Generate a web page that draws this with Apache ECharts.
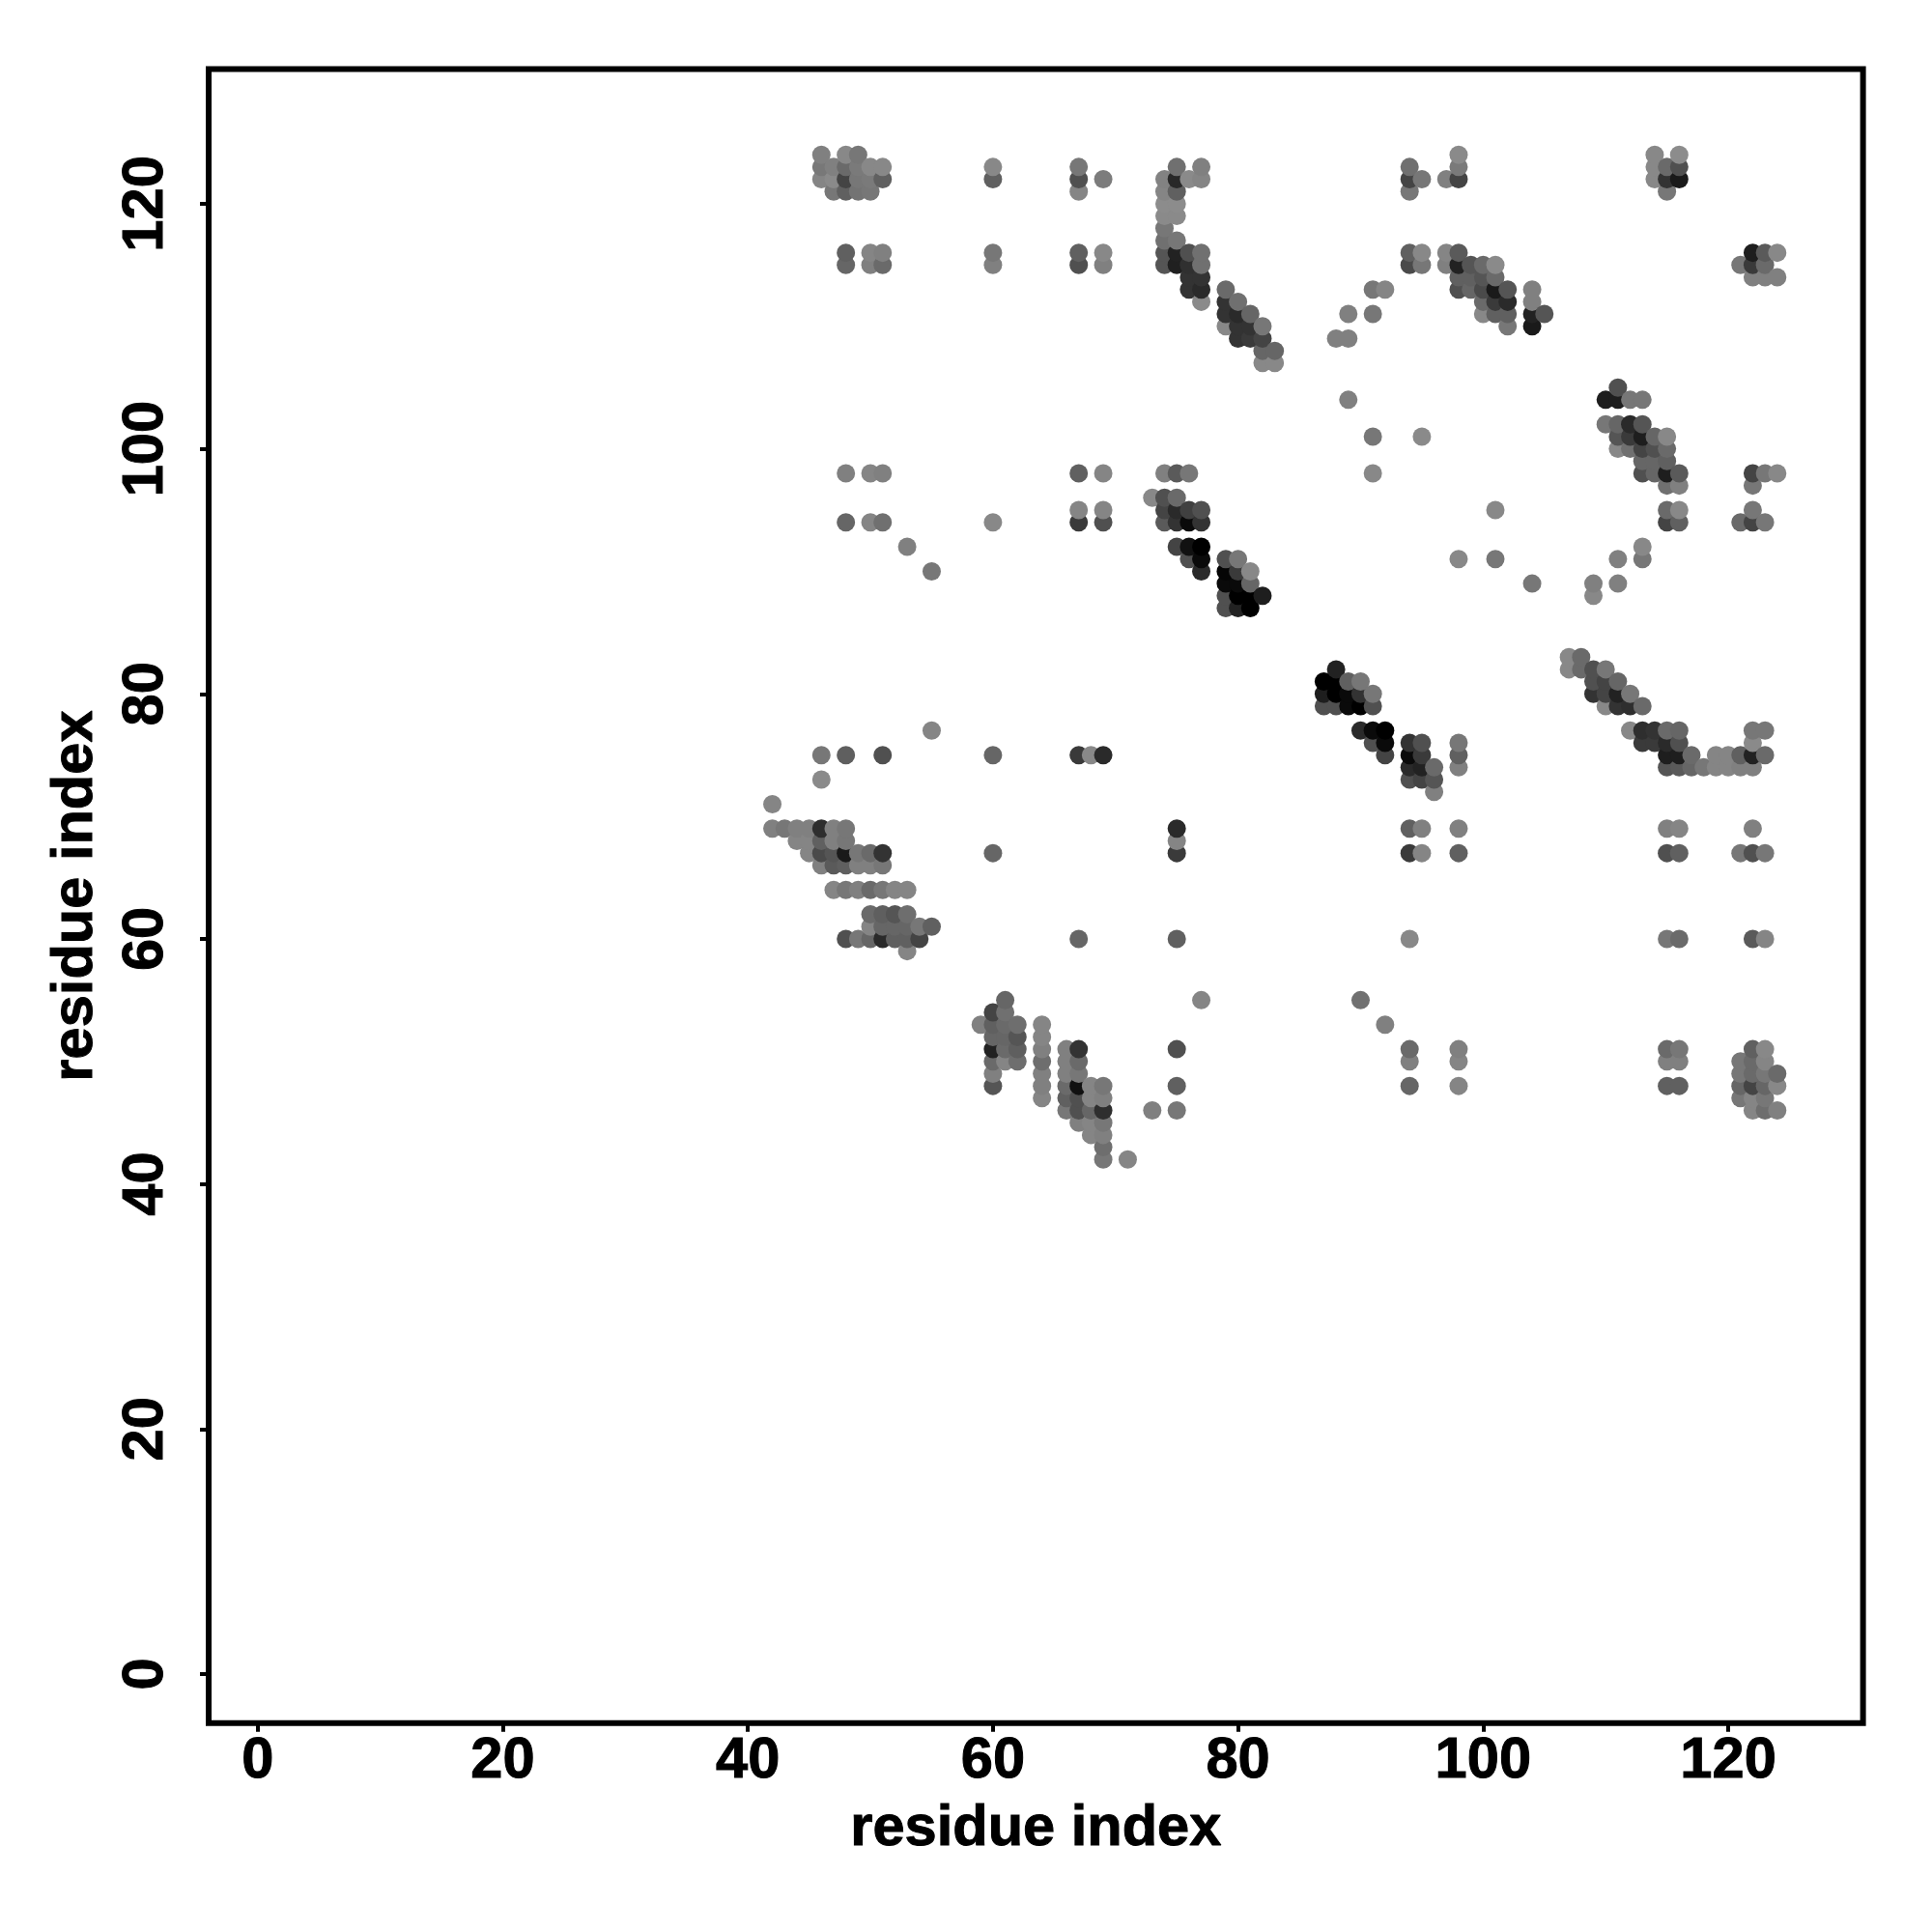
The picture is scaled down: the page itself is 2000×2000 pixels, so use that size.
<!DOCTYPE html>
<html><head><meta charset="utf-8"><style>html,body{margin:0;background:#fff}#c{width:2000px;height:2000px}</style>
<script src="https://cdn.jsdelivr.net/npm/echarts@6/dist/echarts.min.js"></script></head><body><div id="c"></div>
<script>
// Ticks
const xTicks = [0,20,40,60,80,100,120];
const yTicks = [0,20,40,60,80,100,120];
const axisTitle = 'residue index';
// Each row: residue y -> [residue x, grey level]
const y124=[[46,0x80],[48,0x88],[49,0x77],[98,0x8a],[114,0x88],[116,0x8c]];
const y123=[[46,0x78],[47,0x80],[48,0x6a],[49,0x7a],[50,0x88],[51,0x88],[60,0x88],[67,0x77],[75,0x70],[77,0x80],[94,0x70],[98,0x7a],[114,0x88],[115,0x6a],[116,0x50]];
const y122=[[46,0x85],[47,0x8a],[48,0x44],[49,0x77],[50,0x7a],[51,0x60],[60,0x60],[67,0x50],[69,0x7c],[74,0x82],[75,0x28],[76,0x8a],[77,0x85],[94,0x44],[95,0x77],[97,0x80],[98,0x44],[114,0x88],[115,0x33],[116,0x1a]];
const y121=[[47,0x77],[48,0x60],[49,0x73],[50,0x77],[67,0x85],[74,0x85],[75,0x60],[94,0x77],[115,0x77]];
const y120=[[74,0x8c],[75,0x8c]];
const y119=[[74,0x8a],[75,0x8a]];
const y118=[[74,0x77]];
const y117=[[74,0x70],[75,0x77]];
const y116=[[48,0x60],[50,0x85],[51,0x80],[60,0x77],[67,0x60],[69,0x88],[74,0x55],[75,0x22],[76,0x50],[77,0x70],[94,0x60],[95,0x88],[97,0x85],[98,0x5a],[122,0x1e],[123,0x5a],[124,0x88]];
const y115=[[48,0x66],[50,0x80],[51,0x6a],[60,0x80],[67,0x50],[69,0x80],[74,0x55],[75,0x20],[76,0x30],[77,0x70],[94,0x4a],[95,0x77],[97,0x80],[98,0x22],[99,0x55],[100,0x6a],[101,0x8a],[121,0x77],[122,0x3a],[123,0x6a]];
const y114=[[76,0x33],[77,0x33],[98,0x60],[99,0x60],[100,0x55],[101,0x6a],[122,0x80],[123,0x80],[124,0x80]];
const y113=[[76,0x33],[77,0x2a],[79,0x6a],[91,0x77],[92,0x85],[98,0x50],[99,0x66],[100,0x4a],[101,0x1a],[102,0x55],[104,0x80]];
const y112=[[77,0x8a],[79,0x33],[80,0x70],[100,0x6a],[101,0x3a],[102,0x2a],[104,0x80]];
const y111=[[79,0x33],[80,0x2a],[81,0x66],[89,0x80],[91,0x77],[100,0x88],[101,0x60],[102,0x60],[104,0x22],[105,0x55]];
const y110=[[79,0x88],[80,0x33],[81,0x33],[82,0x77],[102,0x77],[104,0x1a]];
const y109=[[80,0x33],[81,0x3a],[82,0x44],[88,0x80],[89,0x80]];
const y108=[[82,0x66],[83,0x66]];
const y107=[[82,0x88],[83,0x88]];
const y105=[[111,0x50]];
const y104=[[89,0x80],[110,0x1e],[111,0x1e],[112,0x77],[113,0x77]];
const y102=[[110,0x77],[111,0x66],[112,0x2a],[113,0x55]];
const y101=[[91,0x77],[95,0x8a],[111,0x55],[112,0x3a],[113,0x1e],[114,0x66],[115,0x88]];
const y100=[[111,0x88],[112,0x70],[113,0x44],[114,0x50],[115,0x6a]];
const y99=[[113,0x66],[114,0x66],[115,0x60]];
const y98=[[48,0x80],[50,0x85],[51,0x80],[67,0x60],[69,0x85],[74,0x80],[75,0x5a],[76,0x77],[91,0x88],[113,0x50],[114,0x66],[115,0x1e],[116,0x5a],[122,0x44],[123,0x77],[124,0x88]];
const y97=[[115,0x70],[116,0x80],[122,0x77]];
const y96=[[73,0x88],[74,0x50],[75,0x6a]];
const y95=[[67,0x85],[69,0x85],[74,0x44],[75,0x2a],[76,0x40],[77,0x50],[101,0x88],[115,0x6a],[116,0x88],[122,0x77]];
const y94=[[48,0x66],[50,0x85],[51,0x70],[60,0x88],[67,0x3a],[69,0x50],[74,0x5a],[75,0x33],[76,0x0a],[77,0x33],[115,0x44],[116,0x60],[121,0x6a],[122,0x44],[123,0x77]];
const y92=[[53,0x80],[75,0x44],[76,0x11],[77,0x00],[113,0x88]];
const y91=[[76,0x50],[77,0x0a],[79,0x50],[80,0x77],[98,0x88],[101,0x77],[111,0x80],[113,0x77]];
const y90=[[55,0x77],[77,0x2a],[79,0x05],[80,0x3a],[81,0x88]];
const y89=[[79,0x0a],[80,0x0a],[81,0x66],[104,0x77],[109,0x80],[111,0x80]];
const y88=[[79,0x50],[80,0x00],[81,0x00],[82,0x1e],[109,0x88]];
const y87=[[79,0x50],[80,0x22],[81,0x00]];
const y83=[[107,0x88],[108,0x6a]];
const y82=[[88,0x22],[107,0x88],[108,0x6a],[109,0x50],[110,0x77]];
const y81=[[87,0x00],[88,0x00],[89,0x60],[90,0x77],[109,0x50],[110,0x44],[111,0x66]];
const y80=[[87,0x1e],[88,0x00],[89,0x0a],[90,0x33],[91,0x77],[109,0x33],[110,0x44],[111,0x22],[112,0x77]];
const y79=[[87,0x50],[88,0x50],[89,0x0a],[90,0x00],[91,0x50],[110,0x88],[111,0x33],[112,0x2e],[113,0x6a]];
const y77=[[55,0x85],[90,0x2a],[91,0x0a],[92,0x00],[112,0x88],[113,0x2e],[114,0x33],[115,0x6a],[116,0x66],[122,0x77],[123,0x77]];
const y76=[[91,0x50],[92,0x0a],[94,0x33],[95,0x50],[98,0x77],[113,0x3a],[114,0x3a],[115,0x2a],[116,0x50],[122,0x8a]];
const y75=[[46,0x77],[48,0x5f],[51,0x50],[60,0x66],[67,0x3a],[68,0x88],[69,0x2a],[92,0x44],[94,0x0a],[95,0x3a],[98,0x60],[115,0x1e],[116,0x1e],[117,0x6a],[119,0x85],[120,0x85],[121,0x60],[122,0x22],[123,0x6a]];
const y74=[[94,0x2a],[95,0x22],[96,0x6a],[98,0x80],[115,0x55],[116,0x5a],[117,0x66],[118,0x77],[119,0x85],[120,0x85],[121,0x80],[122,0x80]];
const y73=[[46,0x8a],[94,0x50],[95,0x44],[96,0x55]];
const y72=[[96,0x80]];
const y71=[[42,0x85]];
const y69=[[42,0x80],[43,0x77],[44,0x80],[45,0x80],[46,0x2e],[47,0x80],[48,0x77],[75,0x2a],[94,0x60],[95,0x80],[98,0x80],[115,0x80],[116,0x85],[122,0x80]];
const y68=[[44,0x85],[45,0x85],[46,0x60],[47,0x80],[48,0x77],[75,0x85]];
const y67=[[45,0x85],[46,0x4a],[47,0x55],[48,0x1a],[49,0x77],[50,0x6a],[51,0x33],[60,0x66],[75,0x3a],[94,0x3a],[95,0x85],[98,0x60],[115,0x50],[116,0x60],[121,0x77],[122,0x50],[123,0x77]];
const y66=[[46,0x80],[47,0x5a],[48,0x5f],[49,0x80],[50,0x80],[51,0x77]];
const y64=[[47,0x85],[48,0x77],[49,0x80],[50,0x6a],[51,0x77],[52,0x85],[53,0x85]];
const y62=[[50,0x6a],[51,0x5f],[52,0x55],[53,0x6e]];
const y61=[[50,0x85],[51,0x66],[52,0x66],[53,0x66],[54,0x77],[55,0x60]];
const y60=[[48,0x50],[49,0x77],[50,0x66],[51,0x2a],[52,0x60],[53,0x60],[54,0x44],[67,0x66],[75,0x60],[94,0x88],[115,0x77],[116,0x6a],[122,0x5a],[123,0x85]];
const y59=[[53,0x85]];
const y55=[[61,0x66],[77,0x85],[90,0x70]];
const y54=[[60,0x44],[61,0x70]];
const y53=[[59,0x80],[60,0x60],[61,0x6a],[62,0x6e],[64,0x85],[92,0x80]];
const y52=[[60,0x66],[61,0x66],[62,0x55],[64,0x85]];
const y51=[[60,0x22],[61,0x6a],[62,0x5f],[64,0x80],[66,0x80],[67,0x33],[75,0x50],[94,0x6a],[98,0x80],[115,0x6a],[116,0x77],[122,0x60],[123,0x88]];
const y50=[[60,0x6a],[61,0x85],[62,0x6e],[64,0x6e],[66,0x80],[67,0x6a],[94,0x80],[98,0x85],[115,0x80],[116,0x80],[121,0x77],[122,0x6a],[123,0x85]];
const y49=[[60,0x80],[64,0x80],[66,0x80],[67,0x77],[121,0x77],[122,0x6a],[123,0x77],[124,0x6a]];
const y48=[[60,0x55],[64,0x80],[66,0x6a],[67,0x11],[68,0x85],[69,0x77],[75,0x60],[94,0x66],[98,0x85],[115,0x60],[116,0x60],[121,0x66],[122,0x44],[123,0x66],[124,0x88]];
const y47=[[64,0x85],[66,0x60],[67,0x50],[68,0x85],[69,0x80],[121,0x77],[122,0x85],[123,0x77]];
const y46=[[66,0x77],[67,0x50],[68,0x66],[69,0x2e],[73,0x80],[75,0x77],[122,0x85],[123,0x6e],[124,0x80]];
const y45=[[67,0x80],[68,0x85],[69,0x77]];
const y44=[[68,0x85],[69,0x80]];
const y43=[[69,0x6e]];
const y42=[[69,0x77],[71,0x85]];

const rows=[[124,y124],[123,y123],[122,y122],[121,y121],[120,y120],[119,y119],[118,y118],[117,y117],[116,y116],[115,y115],[114,y114],[113,y113],[112,y112],[111,y111],[110,y110],[109,y109],[108,y108],[107,y107],[105,y105],[104,y104],[102,y102],[101,y101],[100,y100],[99,y99],[98,y98],[97,y97],[96,y96],[95,y95],[94,y94],[92,y92],[91,y91],[90,y90],[89,y89],[88,y88],[87,y87],[83,y83],[82,y82],[81,y81],[80,y80],[79,y79],[77,y77],[76,y76],[75,y75],[74,y74],[73,y73],[72,y72],[71,y71],[69,y69],[68,y68],[67,y67],[66,y66],[64,y64],[62,y62],[61,y61],[60,y60],[59,y59],[55,y55],[54,y54],[53,y53],[52,y52],[51,y51],[50,y50],[49,y49],[48,y48],[47,y47],[46,y46],[45,y45],[44,y44],[43,y43],[42,y42]];

const points=[];
rows.forEach(([y,row])=>row.forEach(([x,g])=>points.push([x,y,g])));
points.sort((a,b)=>a[0]-b[0]||a[1]-b[1]);

const axisFont={color:'#000',fontFamily:'"Liberation Sans"',fontWeight:'bold',fontSize:59.6,textBorderColor:'#000',textBorderWidth:1};
const tick={show:true,length:9,lineStyle:{color:'#000',width:4}};
const chart=echarts.init(document.getElementById('c'),null,{renderer:'canvas',width:2000,height:2000});
chart.setOption({
  animation:false,backgroundColor:'#fff',
  grid:{left:216,right:71.4,top:71.4,bottom:216.3,show:true,borderColor:'#000',borderWidth:6,backgroundColor:'#fff',containLabel:false},
  xAxis:{type:'value',min:-4,max:131,name:axisTitle,nameLocation:'center',nameGap:80,
    nameTextStyle:axisFont,axisLine:{show:false,onZero:false},splitLine:{show:false},
    axisTick:Object.assign({},tick,{customValues:xTicks}),
    axisLabel:Object.assign({},axisFont,{margin:10,customValues:xTicks,hideOverlap:false,showMinLabel:true,showMaxLabel:true,formatter:v=>String(v)})},
  yAxis:{type:'value',min:-4,max:131,name:axisTitle,nameLocation:'center',nameGap:107,nameRotate:90,
    nameTextStyle:axisFont,axisLine:{show:false,onZero:false},splitLine:{show:false},
    axisTick:Object.assign({},tick,{customValues:yTicks}),
    axisLabel:Object.assign({},axisFont,{margin:34,rotate:90,customValues:yTicks,hideOverlap:false,showMinLabel:true,showMaxLabel:true,formatter:v=>String(v)})},
  series:[{type:'scatter',data:points,symbol:'circle',symbolSize:19,silent:true,encode:{x:0,y:1},
    itemStyle:{opacity:1,color:p=>{const g=p.value[2];return `rgb(${g},${g},${g})`;}}}]
});
</script></body></html>
